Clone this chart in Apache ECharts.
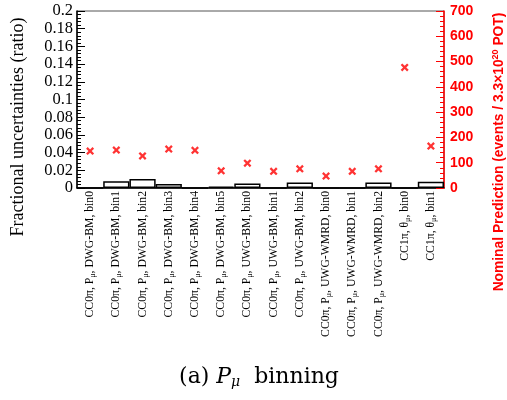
<!DOCTYPE html>
<html><head><meta charset="utf-8">
<script src="https://cdn.jsdelivr.net/npm/echarts@6/dist/echarts.min.js"></script>
<style>html,body{margin:0;padding:0;background:#fff}#c{width:507px;height:400px}</style>
</head><body><div id="c"></div>
<script>
const categories = [
  'CC0π, P_μ, DWG-BM, bin0','CC0π, P_μ, DWG-BM, bin1','CC0π, P_μ, DWG-BM, bin2',
  'CC0π, P_μ, DWG-BM, bin3','CC0π, P_μ, DWG-BM, bin4','CC0π, P_μ, DWG-BM, bin5',
  'CC0π, P_μ, UWG-BM, bin0','CC0π, P_μ, UWG-BM, bin1','CC0π, P_μ, UWG-BM, bin2',
  'CC0π, P_μ, UWG-WMRD, bin0','CC0π, P_μ, UWG-WMRD, bin1','CC0π, P_μ, UWG-WMRD, bin2',
  'CC1π, θ_μ, bin0','CC1π, θ_μ, bin1'
];
const fracUncert = [0, 0.0075, 0.0102, 0.0045, 0, 0.0015, 0.005, 0, 0.0062, 0, 0, 0.0062, 0, 0.007];
const nominalPred = [146, 150, 127, 154, 149, 68, 98, 66, 76, 47, 66, 76, 477, 166];
const leftTicks = [0, 0.2, 0.02];
const rightTicks = [0, 700, 100];

const serif = 'Liberation Serif';
const sans = 'Liberation Sans';
const xPath = 'path://M0,2 L2,0 L5,3 L8,0 L10,2 L7,5 L10,8 L8,10 L5,7 L2,10 L0,8 L3,5 Z';

const chart = echarts.init(document.getElementById('c'), null, {renderer: 'canvas'});
chart.setOption({
  animation: false,
  backgroundColor: '#fff',
  grid: {left: 77, right: 63, top: 11, bottom: 212, show: true, borderColor: '#555', borderWidth: 1},
  xAxis: {
    type: 'category', data: categories,
    axisLine: {lineStyle: {color: '#000', width: 1.5}},
    axisTick: {inside: true, length: 5, lineStyle: {color: '#000'}},
    axisLabel: {
      rotate: 90, interval: 0, margin: 3, fontFamily: serif, fontSize: 11.7, color: '#000',
      formatter: v => v.replace('_μ', '{s|μ}'),
      rich: {s: {fontFamily: serif, fontSize: 8, color: '#000', verticalAlign: 'bottom', padding: [6, 0, 0, 0]}}
    }
  },
  yAxis: [{
    type: 'value', min: leftTicks[0], max: leftTicks[1], interval: leftTicks[2],
    axisLine: {show: true, lineStyle: {color: '#000', width: 1.5}},
    axisTick: {show: true, inside: true, length: 8, lineStyle: {color: '#000'}},
    minorTick: {show: true, splitNumber: 5, length: 4, lineStyle: {color: '#000'}},
    splitLine: {show: false},
    axisLabel: {fontFamily: serif, fontSize: 16.5, color: '#000', margin: 4}
  }, {
    type: 'value', min: rightTicks[0], max: rightTicks[1], interval: rightTicks[2], position: 'right',
    axisLine: {show: true, lineStyle: {color: '#ff0000', width: 1.5}},
    axisTick: {show: true, inside: true, length: 8, lineStyle: {color: '#ff0000'}},
    minorTick: {show: true, splitNumber: 5, length: 4, lineStyle: {color: '#ff0000'}},
    splitLine: {show: false},
    axisLabel: {fontFamily: sans, fontWeight: 'bold', fontSize: 14, color: '#ff0000', margin: 6}
  }],
  series: [{
    type: 'bar', data: fracUncert, yAxisIndex: 0, barWidth: '100%', barGap: '-100%',
    itemStyle: {color: '#fff', borderColor: '#000', borderWidth: 1.5}
  }, {
    type: 'scatter', data: nominalPred, yAxisIndex: 1, symbol: xPath, symbolSize: 8,
    itemStyle: {color: '#ff0000'}
  }],
  graphic: [{
    type: 'text', x: 18, y: 127, rotation: Math.PI / 2,
    style: {text: 'Fractional uncertainties (ratio)', font: '18px "Liberation Serif"', fill: '#000', align: 'center', verticalAlign: 'middle'}
  }, {
    type: 'text', x: 499, y: 152, rotation: Math.PI / 2,
    style: {
      text: '{a|Nominal Prediction (events / 3.3×10}{b|20}{a| POT)}',
      align: 'center', verticalAlign: 'middle',
      rich: {
        a: {fontFamily: sans, fontWeight: 'bold', fontSize: 13.8, fill: '#ff0000', color: '#ff0000'},
        b: {fontFamily: sans, fontWeight: 'bold', fontSize: 9, fill: '#ff0000', color: '#ff0000', verticalAlign: 'top', padding: [0, 0, 6, 0]}
      }
    }
  }, {
    type: 'text', x: 259, y: 377,
    style: {
      text: '{n|(a) }{i|P}{s|μ}{n|  binning}', align: 'center', verticalAlign: 'middle',
      rich: {
        n: {fontFamily: 'DejaVu Serif', fontSize: 22, fill: '#000', color: '#000'},
        i: {fontFamily: 'DejaVu Serif', fontStyle: 'italic', fontSize: 22, fill: '#000', color: '#000'},
        s: {fontFamily: 'DejaVu Serif', fontStyle: 'italic', fontSize: 14, fill: '#000', color: '#000', padding: [11, 0, 0, 0]}
      }
    }
  }]
});
</script></body></html>
